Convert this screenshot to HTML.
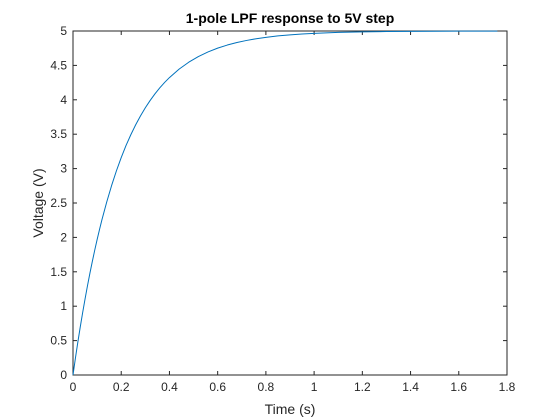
<!DOCTYPE html>
<html><head><meta charset="utf-8"><style>
body{margin:0;background:#fff;}
svg{display:block;font-family:"Liberation Sans",Arial,sans-serif;}
</style></head><body>
<svg id="chart" width="560" height="420" viewBox="0 0 560 420">
<rect x="0" y="0" width="560" height="420" fill="#fff"/>
<g id="ticks"></g>
<rect x="73" y="31" width="434" height="344" fill="none" stroke="#262626" stroke-width="1"/>
<path id="curve" fill="none" stroke="#0072bd" stroke-width="1" stroke-linejoin="round"/>
<text x="290" y="23" text-anchor="middle" font-size="14" font-weight="bold" fill="#000">1-pole LPF response to 5V step</text>
<text x="290" y="414" text-anchor="middle" font-size="14" fill="#262626">Time (s)</text>
<text x="0" y="0" transform="translate(43,203) rotate(-90)" text-anchor="middle" font-size="14" fill="#262626">Voltage (V)</text>
</svg>
<script>
const times=[0,0.01,0.02,0.03,0.04,0.05,0.06,0.07,0.08,0.09,0.1,0.11,0.12,0.14,0.16,0.18,0.2,0.22,0.24,0.26,0.28,0.3,0.32,0.34,0.36,0.38,0.4,0.44,0.48,0.52,0.56,0.6,0.64,0.68,0.72,0.76,0.8,0.85,0.9,0.95,1.0,1.1,1.2,1.3,1.4,1.6,1.76];
const volts=[0,0.244,0.476,0.696,0.906,1.106,1.296,1.477,1.648,1.812,1.967,2.115,2.256,2.517,2.753,2.967,3.161,3.336,3.494,3.637,3.767,3.884,3.991,4.087,4.174,4.252,4.323,4.446,4.546,4.629,4.696,4.751,4.796,4.833,4.863,4.888,4.908,4.929,4.944,4.957,4.966,4.980,4.988,4.992,4.995,4.998,4.999];
const xTicks=[0,0.2,0.4,0.6,0.8,1,1.2,1.4,1.6,1.8];
const yTicks=[0,0.5,1,1.5,2,2.5,3,3.5,4,4.5,5];
const L=73,R=507,T=31,B=375;
const sx=v=>L+(v-0)/(1.8-0)*(R-L);
const sy=v=>B-(v-0)/(5-0)*(B-T);
const NS="http://www.w3.org/2000/svg";
const g=document.getElementById('ticks');
function mk(tag,attrs){const e=document.createElementNS(NS,tag);for(const k in attrs)e.setAttribute(k,attrs[k]);g.appendChild(e);return e;}
xTicks.forEach(t=>{
  const x=sx(t);
  const a=mk('line',{x1:x,x2:x,y1:B,y2:B-4,stroke:'#262626'});
  
  
  const b=mk('line',{x1:x,x2:x,y1:T,y2:T+4,stroke:'#262626'});
  
  
  const l=mk('text',{x:x,y:B+16,'text-anchor':'middle','font-size':12,fill:'#262626'});
  l.textContent=String(t);
  
  
});
yTicks.forEach(t=>{
  const y=sy(t);
  const a=mk('line',{x1:L,x2:L+4,y1:y,y2:y,stroke:'#262626'});
  
  
  const b=mk('line',{x1:R,x2:R-4,y1:y,y2:y,stroke:'#262626'});
  
  
  const l=mk('text',{x:L-6,y:y+4,'text-anchor':'end','font-size':12,fill:'#262626'});
  l.textContent=String(t);
  
  
});
let d='';
times.forEach((t,i)=>{d+=(i?'L':'M')+sx(t).toFixed(2)+','+sy(volts[i]).toFixed(2);});
document.getElementById('curve').setAttribute('d',d);
</script>
</body></html>
